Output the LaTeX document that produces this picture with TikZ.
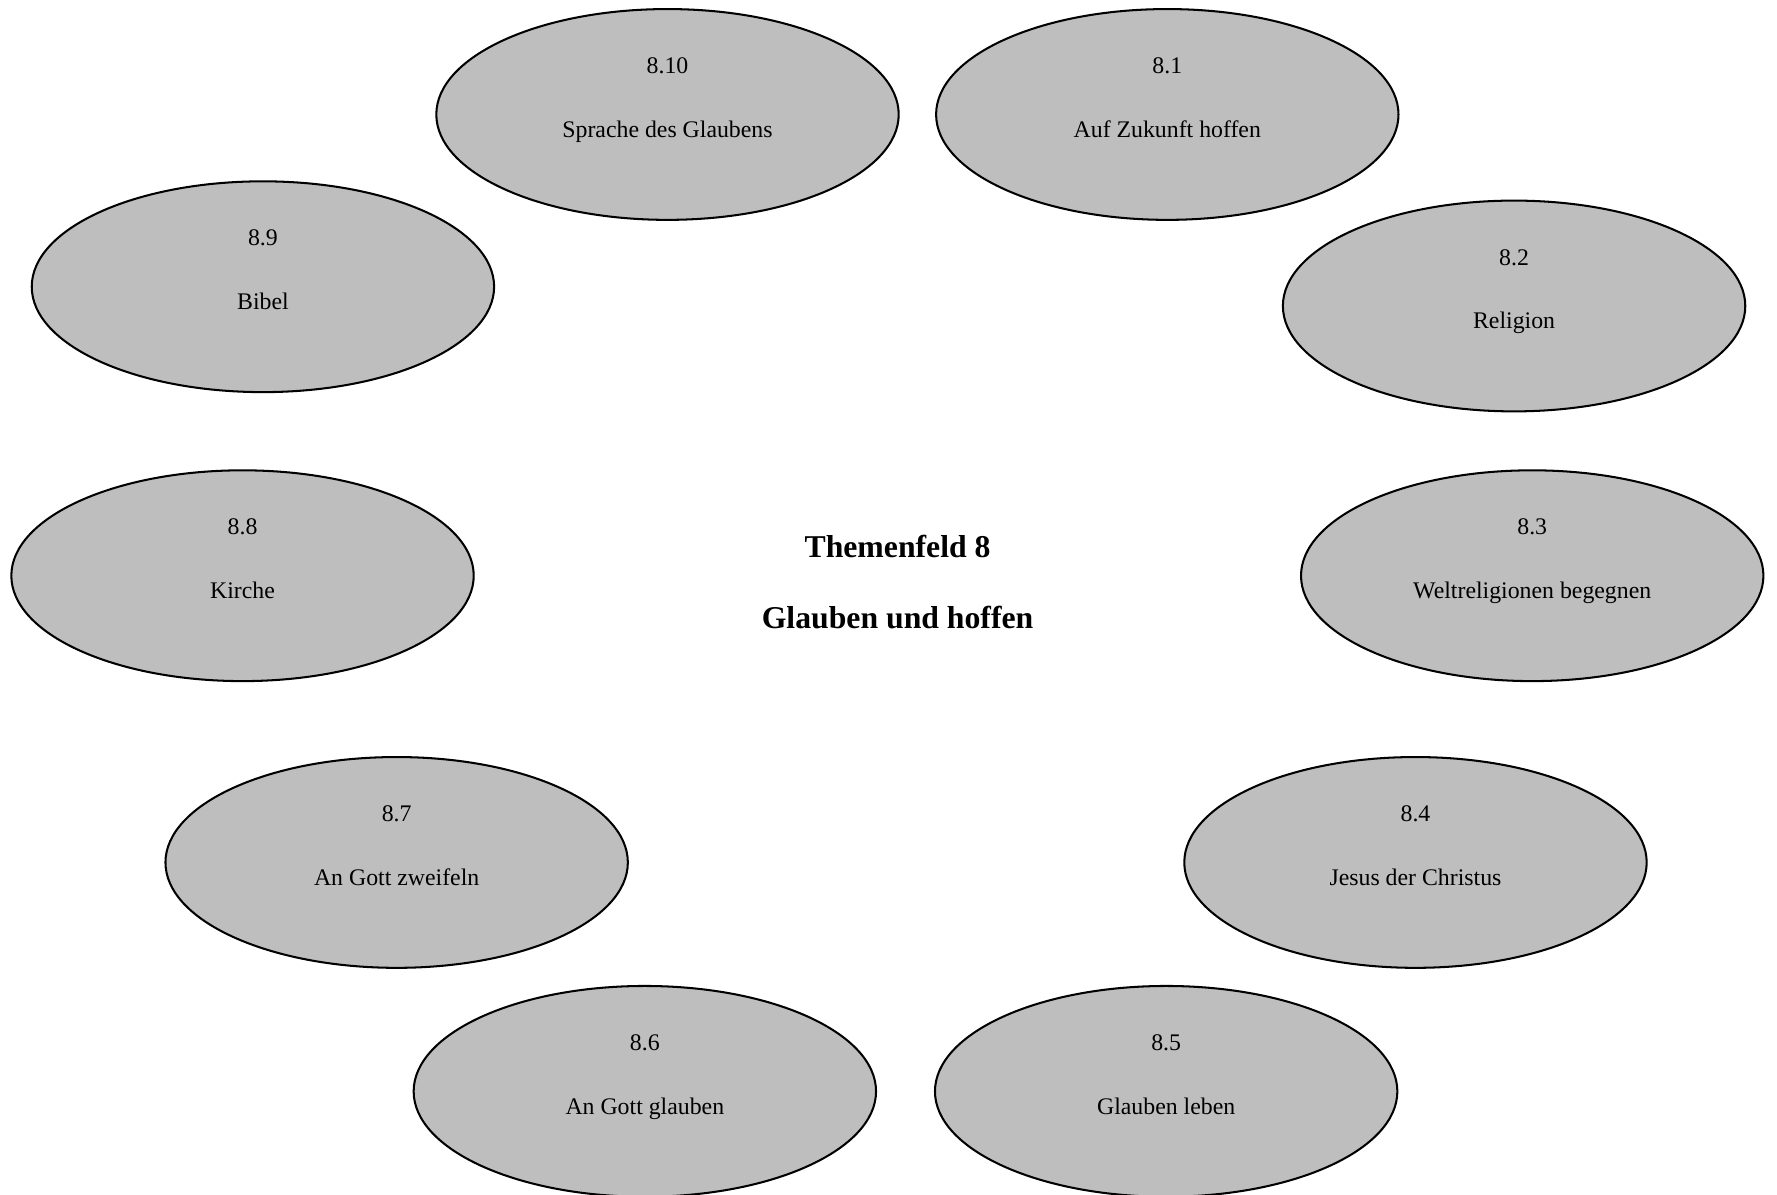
\documentclass[tikz,border=0pt]{standalone}
\usepackage{fontspec}
\setmainfont{Liberation Serif}
\usetikzlibrary{shapes.geometric}
\definecolor{ovalfill}{HTML}{BEBEBE}
\tikzset{
  oval/.style={ellipse, draw=black, line width=1.8pt, fill=ovalfill, minimum width=408pt, minimum height=186pt, inner sep=0pt},
  numtext/.style={font=\fontsize{21}{24}\selectfont, inner sep=0pt, anchor=base},
  titletext/.style={font=\fontsize{28}{32}\selectfont\bfseries, inner sep=0pt, anchor=base}
}
\begin{document}
\begin{tikzpicture}[x=1pt,y=-1pt]
\useasboundingbox (0,0) rectangle (1568,1054);
\foreach \k/\n/\x/\y/\t in {
  10/8.10/589/101/Sprache des Glaubens,
  1/8.1/1030/101/Auf Zukunft hoffen,
  9/8.9/232/253/Bibel,
  2/8.2/1336/270/Religion,
  8/8.8/214/508/Kirche,
  3/8.3/1352/508/Weltreligionen begegnen,
  7/8.7/350/761/An Gott zweifeln,
  4/8.4/1249/761/Jesus der Christus,
  6/8.6/569/963/An Gott glauben,
  5/8.5/1029/963/Glauben leben}{
  \node[oval] (e\k) at (\x,\y) {};
  \node[numtext] (n\k) at ([yshift=36pt]e\k.center) {\n};
  \node[numtext] (t\k) at ([yshift=-20pt]e\k.center) {\t};
}
\node[titletext] (title1) at (792,492) {Themenfeld 8};
\node[titletext] (title2) at (792,555) {Glauben und hoffen};
\end{tikzpicture}
\end{document}
